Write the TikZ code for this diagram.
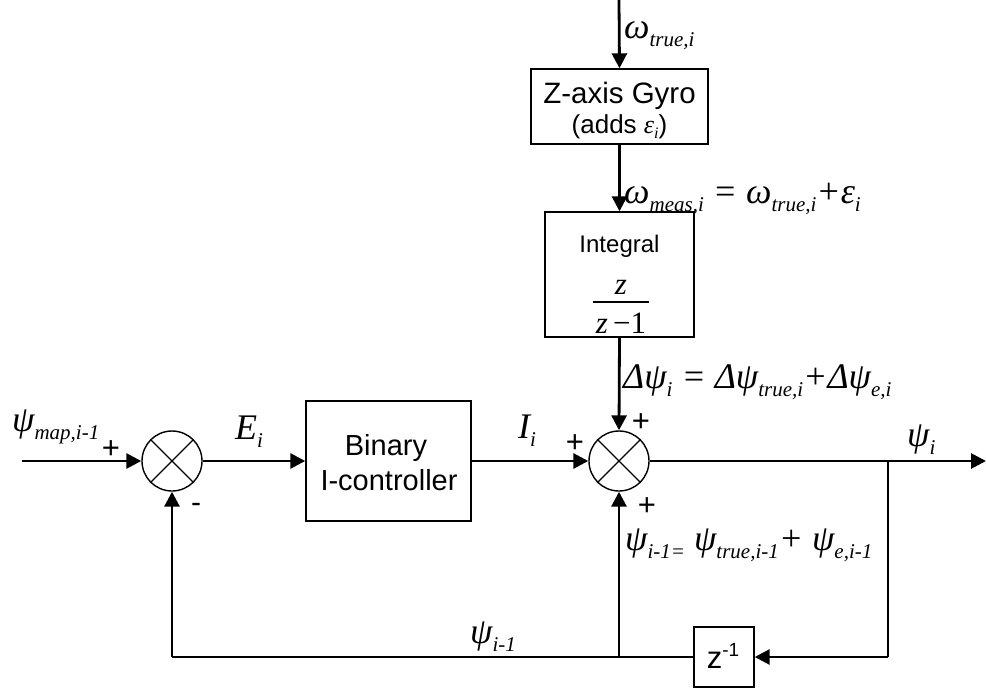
\documentclass[tikz,border=0pt]{standalone}
\usepackage{fontspec}
\setmainfont{Liberation Sans}
\newfontfamily\tms{Liberation Serif}
\usetikzlibrary{arrows.meta}
\newcommand\sbs[1]{\raisebox{-8pt}{\fontsize{21}{21}\selectfont\tms\itshape #1}}
\newcommand\sbsm[1]{\raisebox{-5pt}{\fontsize{16}{16}\selectfont\tms\itshape #1}}
\tikzset{
  sig/.style={line width=2.8pt},
  arr/.style={sig,-{Triangle[length=15pt,width=15pt]}},
  thinline/.style={line width=1.6pt},
  blk/.style={draw,line width=1.4pt,inner sep=0pt},
  sumc/.style={circle,draw,line width=1.4pt,minimum size=60pt,inner sep=0pt},
  lab/.style={inner sep=0pt,anchor=base west,font=\fontsize{36}{36}\selectfont\tms\itshape},
  sgn/.style={inner sep=0pt,font=\fontsize{31}{31}\selectfont},
  btxt/.style={inner sep=0pt,anchor=base},
}
\begin{document}
\begin{tikzpicture}[x=1pt,y=-1pt]
\useasboundingbox (0,0) rectangle (986,688);
% blocks
\node[blk,minimum width=177pt,minimum height=75pt] (gyro) at (619.5,106.5) {};
\node[blk,minimum width=149pt,minimum height=125pt] (integ) at (619.5,274.5) {};
\node[blk,minimum width=165pt,minimum height=120pt] (bin) at (388.5,461) {};
\node[blk,minimum width=60pt,minimum height=60pt] (zinv) at (724,657) {};
\node[sumc] (s1) at (172,461) {};
\node[sumc] (s2) at (619,461) {};
\foreach \s in {s1,s2}{
  \draw[line width=1.4pt] (\s.north east) -- (\s.south west) (\s.north west) -- (\s.south east);
}
% block texts
\node[btxt,font=\fontsize{29.5}{29.5}\selectfont] (gyrot) at (619.5,103) {Z-axis Gyro};
\node[btxt,font=\fontsize{26}{26}\selectfont] (gyrot2) at (619.5,133) {(adds {\tms\itshape ε}\sbsm{i})};
\node[btxt,font=\fontsize{24}{24}\selectfont] (integt) at (619.5,252) {Integral};
\node[btxt,font=\fontsize{31}{31}\selectfont\tms] (num) at (621,294) {\itshape z};
\node[btxt,font=\fontsize{31}{31}\selectfont\tms] (den) at (621,333) {{\itshape z}\,−1};
\coordinate (barl) at (593,302);
\coordinate (barr) at (649,302);
\draw[line width=1.2pt] (barl) -- (barr);
\node[btxt,font=\fontsize{29}{29}\selectfont] (bint1) at (386,455) {Binary};
\node[btxt,font=\fontsize{29}{29}\selectfont] (bint2) at (389,490) {I-controller};
\node[btxt,font=\fontsize{31}{31}\selectfont] (zt) at (723,668) {z\raisebox{12pt}{\fontsize{19}{19}\selectfont -1}};
% coordinates
\coordinate (top) at (619,0);
\coordinate (inp) at (22,461);
\coordinate (out) at (986,461);
\coordinate (tap) at (888,461);
\coordinate (tapb) at (888,657);
\coordinate (fb1) at (619,657);
\coordinate (fb2) at (172,657);
% connectors
\draw[arr] (top) -- (gyro.north);
\draw[arr] (gyro.south) -- (integ.north);
\draw[arr] (integ.south) -- (s2.north);
\draw[arr] (inp) -- (s1.west);
\draw[arr] (s1.east) -- (bin.west);
\draw[arr] (bin.east) -- (s2.west);
\draw[arr] (s2.east) -- (out);
\draw[thinline] (tap) -- (tapb);
\draw[arr] (tapb) -- (zinv.east);
\draw[thinline] (zinv.west) -- (fb1) -- (fb2);
\draw[arr] (fb1) -- (s2.south);
\draw[arr] (fb2) -- (s1.south);
% labels
\node[lab] (lwt) at (624,38) {ω\sbs{true,i}};
\node[lab] (lwm) at (624,203) {ω\sbs{meas,i} = ω\sbs{true,i}+ε\sbs{i}};
\node[lab] (ldp) at (623,388) {Δψ\sbs{i} = Δψ\sbs{true,i}+Δψ\sbs{e,i}};
\node[lab] (lpp) at (625,550) {ψ\sbs{i-1=} ψ\sbs{true,i-1}+ ψ\sbs{e,i-1}};
\node[lab] (lpm) at (12,431) {ψ\sbs{map,i-1}};
\node[lab] (lE) at (235,439) {E\sbs{i}};
\node[lab] (lI) at (518,438) {I\sbs{i}};
\node[lab] (lpi) at (907,446) {ψ\sbs{i}};
\node[lab] (lpi1) at (470,643) {ψ\sbs{i-1}};
% signs
\node[sgn] (p1) at (111,450) {+};
\node[sgn] (p2) at (575,444) {+};
\node[sgn] (p3) at (641,423) {+};
\node[sgn] (p4) at (647,507) {+};
\node[sgn,font=\fontsize{30}{30}\selectfont] (m1) at (196,508) {-};
\end{tikzpicture}
\end{document}
